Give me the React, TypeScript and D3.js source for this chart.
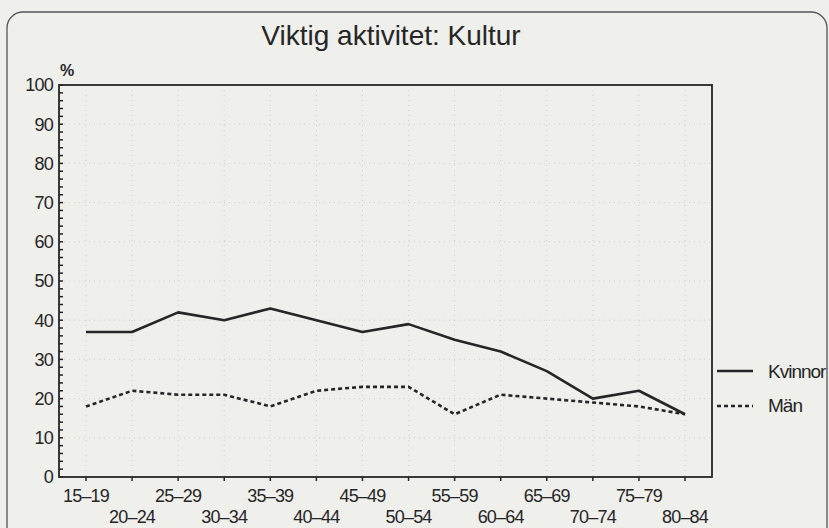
import React from "react";
import * as d3 from "d3";

const categories = ["15–19","20–24","25–29","30–34","35–39","40–44","45–49","50–54","55–59","60–64","65–69","70–74","75–79","80–84"];
const kvinnor = [37, 37, 42, 40, 43, 40, 37, 39, 35, 32, 27, 20, 22, 16];
const man = [18, 22, 21, 21, 18, 22, 23, 23, 16, 21, 20, 19, 18, 16];
const yTicks = [0, 10, 20, 30, 40, 50, 60, 70, 80, 90, 100];
const seriesNames = ["Kvinnor", "Män"];

const W = 829, H = 528;
const plot = { left: 59, right: 712, top: 85, bottom: 477 };
const INK = "#262626";
const FONT = "'Liberation Sans', Arial, sans-serif";

export default function App() {
  const x = d3.scalePoint<string>().domain(categories).range([plot.left + 27, plot.right - 27]);
  const y = d3.scaleLinear().domain([0, 100]).range([plot.bottom, plot.top]);
  const line = d3.line<number>().x((_, i) => x(categories[i]) as number).y(d => y(d));
  const minor = d3.range(0, 101, 2);

  return (
    <svg width={W} height={H} style={{ position: "absolute", left: 0, top: 0, background: "#efefec" }} fontFamily={FONT}>
      <rect x={0} y={0} width={W} height={H} fill="#efefec" />
      <rect x={7} y={12} width={820} height={580} rx={16} fill="none" stroke="#555" strokeWidth={1.3} />
      <text x={391} y={45} textAnchor="middle" fontSize={28} fill={INK}>Viktig aktivitet: Kultur</text>

      {/* faint grid */}
      <g stroke="#cfcfcc" strokeWidth={1} strokeDasharray="1,4">
        {yTicks.filter(t => t > 0 && t < 100).map(t => (
          <line key={"gy" + t} x1={plot.left} x2={plot.right} y1={y(t)} y2={y(t)} />
        ))}
        {categories.map(c => (
          <line key={"gx" + c} x1={x(c)} x2={x(c)} y1={plot.top} y2={plot.bottom} />
        ))}
      </g>

      {/* plot frame */}
      <rect x={plot.left} y={plot.top} width={plot.right - plot.left} height={plot.bottom - plot.top} fill="none" stroke={INK} strokeWidth={1.8} />

      {/* y ticks */}
      <g stroke={INK} strokeWidth={1.5}>
        {minor.map(t => (
          <line key={"yt" + t} x1={plot.left} x2={plot.left + 4} y1={y(t)} y2={y(t)} />
        ))}
      </g>
      {yTicks.map(t => (
        <text key={"yl" + t} x={plot.left - 6} y={y(t)} dy="0.36em" textAnchor="end" fontSize={18} fill={INK} letterSpacing={-0.8}>{t}</text>
      ))}
      <text x={60} y={76} fontSize={16} fontWeight="bold" fill={INK}>%</text>

      {/* x ticks */}
      <g stroke={INK} strokeWidth={1.5}>
        {categories.map(c => (
          <line key={"xt" + c} x1={x(c)} x2={x(c)} y1={plot.bottom} y2={plot.bottom + 4} />
        ))}
      </g>
      {categories.map((c, i) => (
        <text key={"xl" + c} x={x(c)} y={i % 2 === 0 ? 502 : 523} textAnchor="middle" fontSize={18} fill={INK} letterSpacing={-0.8}>{c}</text>
      ))}

      {/* series */}
      <path d={line(kvinnor) || ""} fill="none" stroke={INK} strokeWidth={2.6} strokeLinejoin="round" />
      <path d={line(man) || ""} fill="none" stroke={INK} strokeWidth={2.6} strokeDasharray="4,3" />

      {/* legend */}
      <line x1={717} x2={753} y1={371} y2={371} stroke={INK} strokeWidth={2.6} />
      <text x={768} y={378} fontSize={19} fill={INK} letterSpacing={-1}>{seriesNames[0]}</text>
      <line x1={717} x2={753} y1={406} y2={406} stroke={INK} strokeWidth={2.6} strokeDasharray="4,3" />
      <text x={768} y={412} fontSize={19} fill={INK} letterSpacing={-1}>{seriesNames[1]}</text>
    </svg>
  );
}
